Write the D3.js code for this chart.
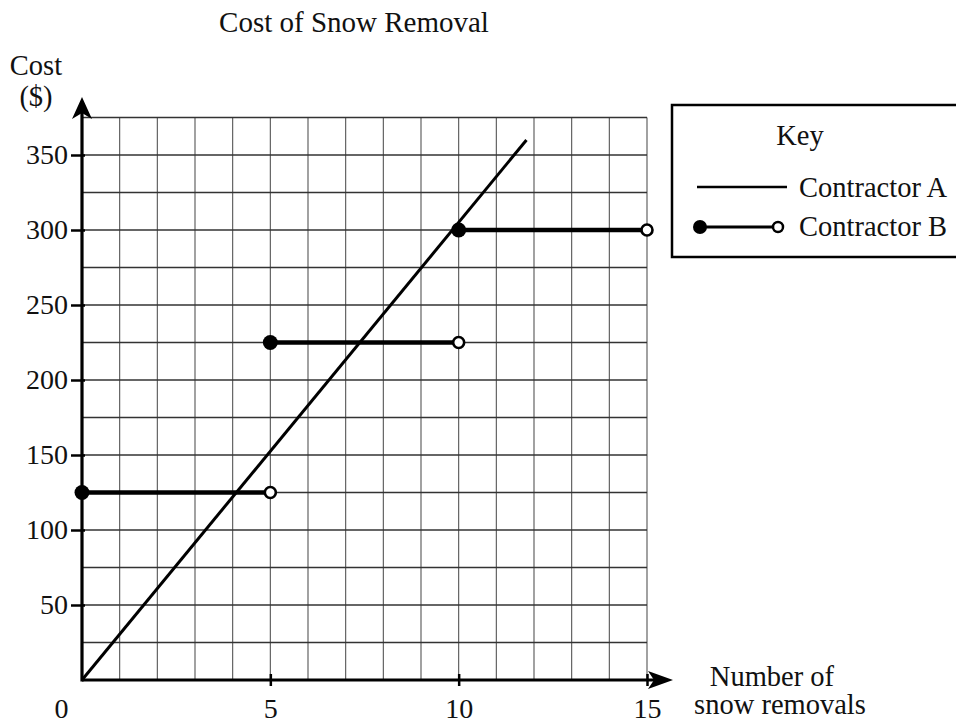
<!DOCTYPE html>
<html><head><meta charset="utf-8">
<script src="https://cdn.jsdelivr.net/npm/d3@7"></script>
<style>
html,body{margin:0;padding:0;background:#fff;}
svg text{font-family:"Liberation Serif","Times New Roman",serif;fill:#111;}
</style></head>
<body>
<svg id="chart" width="956" height="724"></svg>
<script>
// ---- data ----
const xTickValues = [0, 5, 10, 15];
const yTickValues = [50, 100, 150, 200, 250, 300, 350];
const contractorA = [{x: 0, y: 0}, {x: 11.8, y: 360}];
const contractorBStart = [0, 5, 10];
const contractorBEnd = [5, 10, 15];
const contractorBCost = [125, 225, 300];
const titleText = "Cost of Snow Removal";
const legendLabels = ["Contractor A", "Contractor B"];

const FS = 28.5;
const svg = d3.select("#chart");
const x = d3.scaleLinear().domain([0, 15]).range([82, 647]);
const y = d3.scaleLinear().domain([0, 375]).range([680, 117.5]);

// grid
const g = svg.append("g");
g.selectAll("line.v").data(d3.range(0, 16)).join("line")
  .attr("x1", d => x(d)).attr("x2", d => x(d))
  .attr("y1", y(0)).attr("y2", y(375))
  .attr("stroke", "#555").attr("stroke-width", 1.1);
g.selectAll("line.h").data(d3.range(0, 376, 25)).join("line")
  .attr("x1", x(0)).attr("x2", x(15))
  .attr("y1", d => y(d)).attr("y2", d => y(d))
  .attr("stroke", "#333").attr("stroke-width", 1.4);

// axes
const yAxis = d3.axisLeft(y).tickValues(yTickValues).tickSize(11).tickPadding(2).tickFormat(d3.format("d"));
const ya = svg.append("g").attr("transform", `translate(${x(0)},0)`).call(yAxis);
ya.select(".domain").remove();
ya.selectAll(".tick line").attr("stroke", "#000").attr("stroke-width", 2.5).attr("x2", -11).attr("x1", 3);
ya.selectAll(".tick text").attr("font-size", 28).attr("font-family", "Liberation Serif").attr("fill", "#111").attr("dx", "-1");

const xAxis = d3.axisBottom(x).tickValues(xTickValues).tickSize(0).tickPadding(18).tickFormat(d3.format("d"));
const xa = svg.append("g").attr("transform", `translate(0,${y(0)})`).call(xAxis);
xa.select(".domain").remove();
xa.selectAll(".tick text").attr("font-size", 28).attr("font-family", "Liberation Serif").attr("fill", "#111");
xa.selectAll(".tick").filter(d => d === 0).select("text").attr("dx", -21);
xa.selectAll(".tick").filter(d => d > 0).append("line")
  .attr("y1", -6).attr("y2", 6).attr("stroke", "#000").attr("stroke-width", 2.5);

// axis lines with arrows
svg.append("line").attr("x1", x(0)).attr("x2", 660).attr("y1", y(0)).attr("y2", y(0))
  .attr("stroke", "#000").attr("stroke-width", 3.2);
svg.append("path").attr("d", `M673,${y(0)} L648,${y(0)-9} L654,${y(0)} L648,${y(0)+9} Z`).attr("fill", "#000");
svg.append("line").attr("x1", x(0)).attr("x2", x(0)).attr("y1", y(0)+1.5).attr("y2", 110)
  .attr("stroke", "#000").attr("stroke-width", 3.2);
svg.append("path").attr("d", `M${x(0)},97 L${x(0)-10},119 L${x(0)},113 L${x(0)+10},119 Z`).attr("fill", "#000");

// Contractor A
svg.append("path").datum(contractorA)
  .attr("d", d3.line().x(d => x(d.x)).y(d => y(d.y)))
  .attr("fill", "none").attr("stroke", "#000").attr("stroke-width", 3);

// Contractor B
const bData = contractorBCost.map((c, i) => ({s: contractorBStart[i], e: contractorBEnd[i], c}));
svg.selectAll("line.b").data(bData).join("line")
  .attr("x1", d => x(d.s)).attr("x2", d => x(d.e))
  .attr("y1", d => y(d.c)).attr("y2", d => y(d.c))
  .attr("stroke", "#000").attr("stroke-width", 4.5);
svg.selectAll("circle.open").data(bData).join("circle")
  .attr("cx", d => x(d.e)).attr("cy", d => y(d.c)).attr("r", 5.5)
  .attr("fill", "#fff").attr("stroke", "#000").attr("stroke-width", 2.6);
svg.selectAll("circle.fill").data(bData).join("circle")
  .attr("cx", d => x(d.s)).attr("cy", d => y(d.c)).attr("r", 7.5)
  .attr("fill", "#000");

// title and axis labels
svg.append("text").attr("x", 354).attr("y", 32).attr("text-anchor", "middle")
  .attr("font-size", 29).text(titleText);
svg.append("text").attr("x", 36).attr("y", 75).attr("text-anchor", "middle")
  .attr("font-size", FS).text("Cost");
svg.append("text").attr("x", 36).attr("y", 106).attr("text-anchor", "middle")
  .attr("font-size", FS).text("($)");
svg.append("text").attr("x", 772).attr("y", 686).attr("text-anchor", "middle")
  .attr("font-size", FS).text("Number of");
svg.append("text").attr("x", 780).attr("y", 714).attr("text-anchor", "middle")
  .attr("font-size", FS).text("snow removals");

// legend
const lg = svg.append("g");
lg.append("rect").attr("x", 672).attr("y", 105).attr("width", 300).attr("height", 152)
  .attr("fill", "#fff").attr("stroke", "#000").attr("stroke-width", 2.5);
lg.append("text").attr("x", 800).attr("y", 145).attr("text-anchor", "middle").attr("font-size", FS).text("Key");
lg.append("line").attr("x1", 697).attr("x2", 787).attr("y1", 187).attr("y2", 187)
  .attr("stroke", "#000").attr("stroke-width", 2.5);
lg.append("text").attr("x", 799).attr("y", 197).attr("font-size", FS).text(legendLabels[0]);
lg.append("line").attr("x1", 700).attr("x2", 778).attr("y1", 227).attr("y2", 227)
  .attr("stroke", "#000").attr("stroke-width", 3);
lg.append("circle").attr("cx", 700).attr("cy", 227).attr("r", 7).attr("fill", "#000");
lg.append("circle").attr("cx", 778).attr("cy", 227).attr("r", 5).attr("fill", "#fff")
  .attr("stroke", "#000").attr("stroke-width", 2.5);
lg.append("text").attr("x", 799).attr("y", 236).attr("font-size", FS).text(legendLabels[1]);
</script>
</body></html>
